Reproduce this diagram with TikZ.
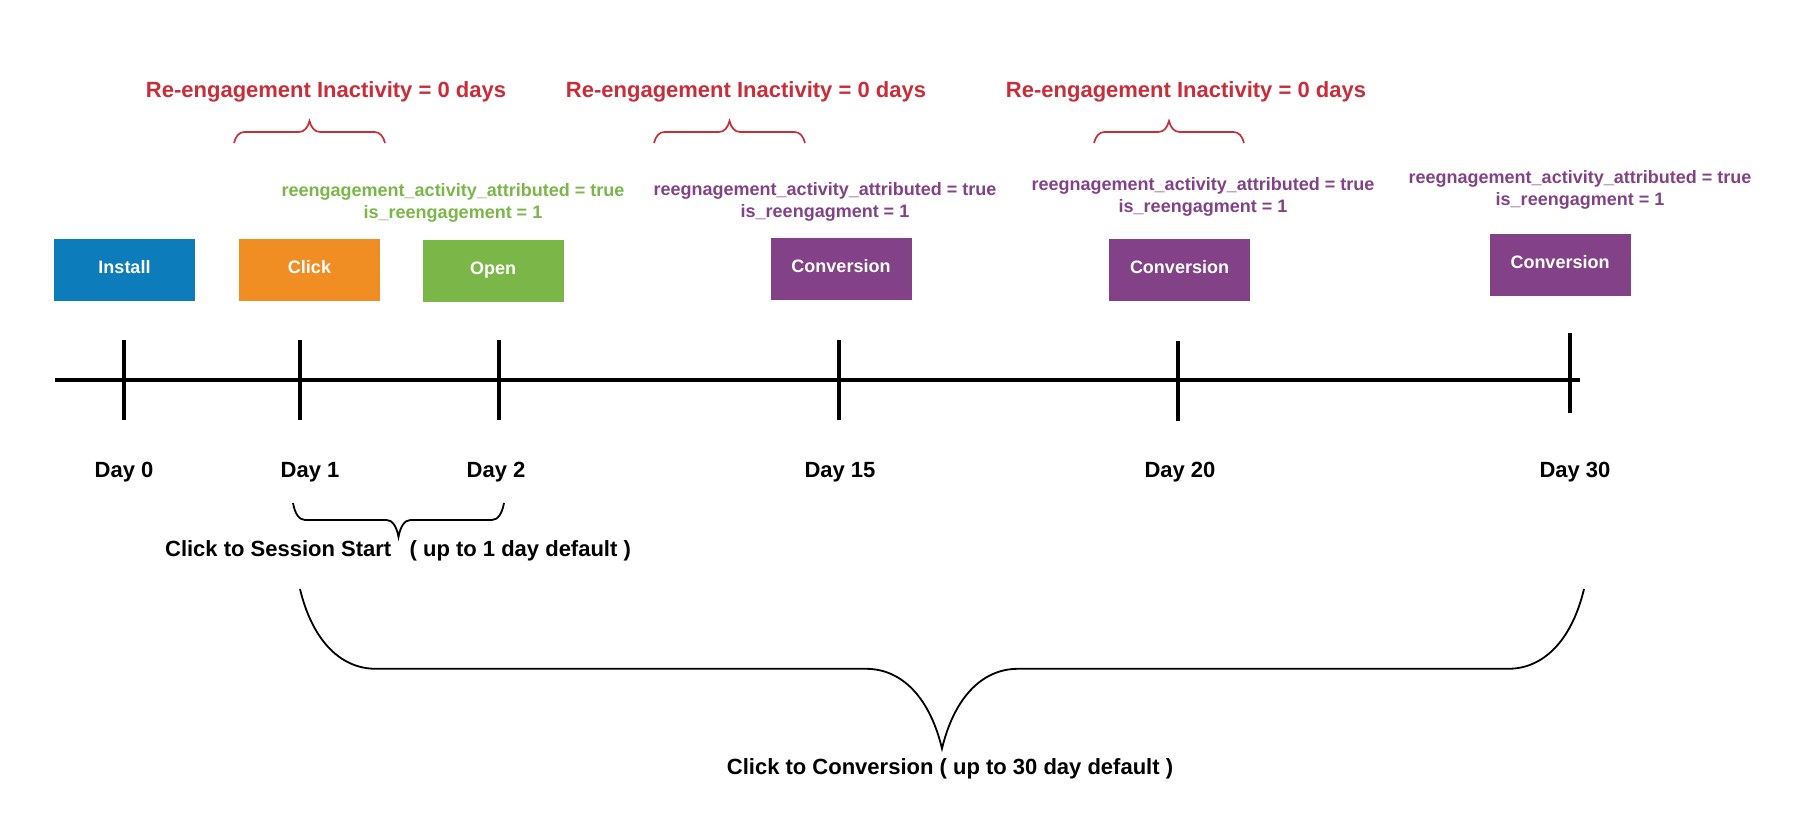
\documentclass[tikz,border=0pt]{standalone}
\usepackage{fontspec}
\setmainfont{Liberation Sans}
\usepackage{tikz}
\usetikzlibrary{decorations.pathreplacing}

\definecolor{installblue}{HTML}{0C7CBA}
\definecolor{clickorange}{HTML}{F08E24}
\definecolor{opengreen}{HTML}{7AB648}
\definecolor{convpurple}{HTML}{834187}
\definecolor{inactred}{HTML}{C92D39}

\begin{document}
\begin{tikzpicture}[x=0.5pt,y=-0.5pt,
    event/.style={minimum width=70.5pt,minimum height=31pt,inner sep=0pt,text depth=3pt,text=white,font=\fontsize{9}{11}\selectfont\bfseries},
    daylabel/.style={font=\fontsize{11}{13}\selectfont\bfseries},
    flag/.style={align=center,font=\fontsize{9}{11}\selectfont\bfseries},
    inactbrace/.style={inactred,line width=0.85pt,decorate,decoration={brace,amplitude=5.25pt,transform={yscale=2.1}}}]
    \useasboundingbox (0,0) rectangle (1800,840);

    % timeline
    \coordinate (start) at (55,380);
    \coordinate (end) at (1580,380);
    \draw[line width=2.25pt] (start) -- (end);
    \foreach \x/\top/\d/\lx in {124/340/0/124,300/340/1/310,499/340/2/496,839/340/15/840,1178/341/20/1180,1570/333/30/1575}{
      \draw[line width=1.75pt] (\x,\top) -- ++(0,80);
      \node[daylabel] (day\d) at (\lx,472) {Day \d};
    }

    % events
    \node[event,fill=installblue] (install) at (124.5,270) {Install};
    \node[event,fill=clickorange] (click) at (309.5,270) {Click};
    \node[event,fill=opengreen] (open) at (493,271) {Open};
    \node[event,fill=convpurple] (conv1) at (841,269) {Conversion};
    \node[event,fill=convpurple] (conv2) at (1179.5,270) {Conversion};
    \node[event,fill=convpurple] (conv3) at (1560,265) {Conversion};

    \node[flag,text=opengreen] (attr1) at (453,203) {reengagement\_activity\_attributed = true\\is\_reengagement = 1};
    \node[flag,text=convpurple] (attr2) at (825,202) {reegnagement\_activity\_attributed = true\\is\_reengagment = 1};
    \node[flag,text=convpurple] (attr3) at (1203,197) {reegnagement\_activity\_attributed = true\\is\_reengagment = 1};
    \node[flag,text=convpurple] (attr4) at (1580,190) {reegnagement\_activity\_attributed = true\\is\_reengagment = 1};

    % inactivity windows
    \foreach \x/\a/\b/\n in {326/234/385/1,746/654/805/2,1186/1094/1244/3}{
      \node[daylabel,text=inactred] (inact\n) at (\x,91.5) {Re-engagement Inactivity = 0 days};
      \draw[inactbrace] (\a,143) -- (\b,143);
    }

    % attribution windows
    \draw[line width=0.9pt,decorate,decoration={brace,amplitude=6pt,transform={yscale=2.83}}] (504,503) -- (293,503);
    \node[daylabel] (session) at (398,551) {Click to Session Start \ \ ( up to 1 day default )};
    \draw[line width=0.9pt,decorate,decoration={brace,amplitude=38pt,transform={yscale=2.1}}] (1584,589) -- (300,589);
    \node[daylabel] (convwin) at (950,769) {Click to Conversion ( up to 30 day default )};

\end{tikzpicture}
\end{document}
